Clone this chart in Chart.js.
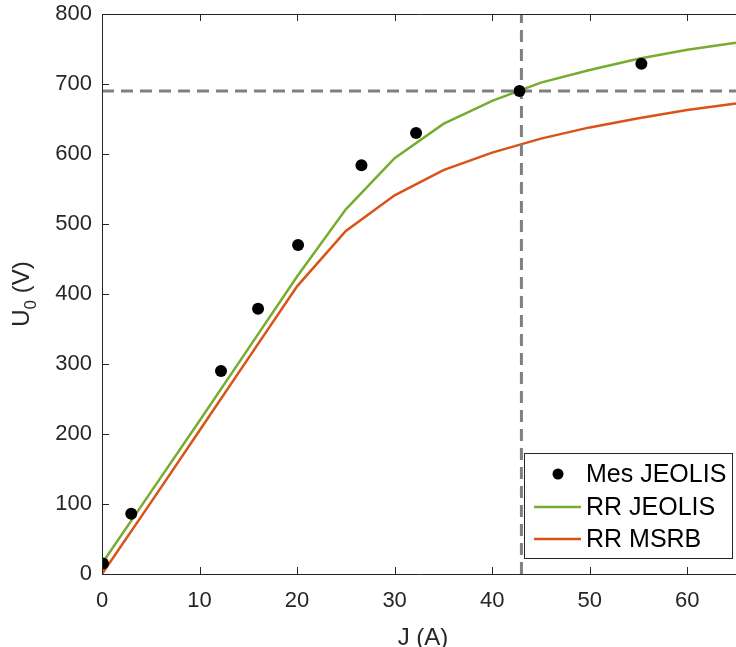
<!DOCTYPE html>
<html>
<head>
<meta charset="utf-8">
<script src="https://cdn.jsdelivr.net/npm/chart.js@4"></script>
<style>
html,body{margin:0;padding:0;background:#fff;}
#wrap{width:736px;height:647px;position:relative;}
</style>
</head>
<body>
<div id="wrap"><canvas id="c"></canvas></div>
<script>
// ---- data ----
const measJ = [0.1, 3.0, 12.2, 16.0, 20.1, 26.6, 32.2, 42.8, 55.3];
const measU = [15, 86, 290, 379, 470, 584, 630, 690, 729];

const modelJ = [0, 5, 10, 15, 20, 25, 30, 35, 40, 45, 50, 55, 60, 65];
const rrJeolis = [15, 117, 219, 322, 425, 521, 594, 643, 676, 702, 720, 736, 749, 759];
const rrMsrb   = [0, 102, 205, 308, 411, 490, 541, 577, 602, 622, 638, 651, 663, 672];

const refU = 690;   // horizontal dashed reference
const refJ = 43;    // vertical dashed reference

const xTicks = [0, 10, 20, 30, 40, 50, 60];
const yTicks = [0, 100, 200, 300, 400, 500, 600, 700, 800];
const seriesLabels = ['Mes JEOLIS', 'RR JEOLIS', 'RR MSRB'];

const FONT = '"Liberation Sans", Arial, Helvetica, sans-serif';
const AXIS = '#262626';
const GREEN = '#77AC30';
const ORANGE = '#D95319';
const GRAY = '#808080';

const pts = (xs, ys) => xs.map((x, i) => ({x: x, y: ys[i]}));

// inward ticks + box + titles
const axesPlugin = {
  id: 'axesPlugin',
  afterDraw(chart) {
    const ctx = chart.ctx, a = chart.chartArea;
    const xs = chart.scales.x, ys = chart.scales.y;
    const L = 7;
    ctx.save();
    ctx.strokeStyle = AXIS;
    ctx.lineWidth = 1;
    ctx.beginPath();
    ctx.moveTo(a.left + 0.5, a.top + 0.5);
    ctx.lineTo(a.right, a.top + 0.5);
    ctx.moveTo(a.left + 0.5, a.top);
    ctx.lineTo(a.left + 0.5, a.bottom + 0.5);
    ctx.lineTo(a.right, a.bottom + 0.5);
    xTicks.forEach(v => {
      const px = Math.round(xs.getPixelForValue(v)) + 0.5;
      ctx.moveTo(px, a.bottom); ctx.lineTo(px, a.bottom - L);
      ctx.moveTo(px, a.top); ctx.lineTo(px, a.top + L);
    });
    yTicks.forEach(v => {
      const py = Math.round(ys.getPixelForValue(v)) + 0.5;
      ctx.moveTo(a.left, py); ctx.lineTo(a.left + L, py);
    });
    ctx.stroke();

    // x title
    ctx.fillStyle = AXIS;
    ctx.font = '24px ' + FONT;
    ctx.textAlign = 'center';
    ctx.textBaseline = 'alphabetic';
    ctx.fillText('J (A)', (a.left + a.right) / 2 + 4, 645);

    // y title with subscript
    ctx.translate(29, (a.top + a.bottom) / 2);
    ctx.rotate(-Math.PI / 2);
    ctx.font = '24px ' + FONT;
    const wU = ctx.measureText('U').width;
    ctx.font = '17px ' + FONT;
    const w0 = ctx.measureText('0').width;
    ctx.font = '24px ' + FONT;
    const wR = ctx.measureText(' (V)').width;
    const total = wU + w0 + wR;
    let x0 = -total / 2;
    ctx.textAlign = 'left';
    ctx.fillText('U', x0, 0);
    ctx.font = '17px ' + FONT;
    ctx.fillText('0', x0 + wU, 7);
    ctx.font = '24px ' + FONT;
    ctx.fillText(' (V)', x0 + wU + w0, 0);
    ctx.restore();
  }
};

// legend drawn inside the plot, lower right
const legendPlugin = {
  id: 'boxLegend',
  afterDraw(chart) {
    const ctx = chart.ctx;
    const bx = 524, by = 453, bw = 208, bh = 105;
    ctx.save();
    ctx.fillStyle = '#fff';
    ctx.fillRect(bx, by, bw, bh);
    ctx.strokeStyle = AXIS;
    ctx.lineWidth = 1;
    ctx.strokeRect(bx + 0.5, by + 0.5, bw, bh);
    const rows = [474, 507, 539];
    const ds = chart.data.datasets;
    ctx.font = '25px ' + FONT;
    ctx.textBaseline = 'middle';
    ctx.textAlign = 'left';
    for (let i = 0; i < 3; i++) {
      const y = rows[i];
      const d = ds[i];
      if (i === 0) {
        ctx.fillStyle = '#000';
        ctx.beginPath(); ctx.arc(558, y, 5.5, 0, Math.PI * 2); ctx.fill();
      } else {
        ctx.strokeStyle = d.borderColor;
        ctx.lineWidth = 2.5;
        ctx.beginPath(); ctx.moveTo(534, y); ctx.lineTo(581, y); ctx.stroke();
      }
      ctx.fillStyle = '#000';
      ctx.fillText(d.label, 586, y + 1);
    }
    ctx.restore();
  }
};

new Chart(document.getElementById('c'), {
  type: 'scatter',
  data: {
    datasets: [
      {label: seriesLabels[0], data: pts(measJ, measU), showLine: false,
       pointRadius: 6, pointBackgroundColor: '#000', pointBorderWidth: 0, order: 0},
      {label: seriesLabels[1], data: pts(modelJ, rrJeolis), showLine: true,
       borderColor: GREEN, borderWidth: 2.5, pointRadius: 0, fill: false, order: 2},
      {label: seriesLabels[2], data: pts(modelJ, rrMsrb), showLine: true,
       borderColor: ORANGE, borderWidth: 2.5, pointRadius: 0, fill: false, order: 3},
      {label: 'hline', data: [{x: 0, y: refU}, {x: 65, y: refU}], showLine: true,
       borderColor: GRAY, borderWidth: 3, borderDash: [12, 7], pointRadius: 0, order: 1},
      {label: 'vline', data: [{x: refJ, y: 0}, {x: refJ, y: 800}], showLine: true,
       borderColor: GRAY, borderWidth: 3, borderDash: [12, 7], pointRadius: 0, order: 1}
    ]
  },
  options: {
    responsive: true,
    maintainAspectRatio: false,
    animation: false,
    layout: {padding: 0, autoPadding: false},
    plugins: {legend: {display: false}, tooltip: {enabled: false}},
    scales: {
      x: {
        type: 'linear', min: 0, max: 65,
        grid: {display: false, tickLength: 0}, border: {display: false},
        ticks: {stepSize: 10, includeBounds: false, color: AXIS,
                font: {family: FONT, size: 22}, padding: 14, maxRotation: 0},
        afterFit(s) { s.height = 73; s.paddingLeft = 0; s.paddingRight = 0; }
      },
      y: {
        type: 'linear', min: 0, max: 800,
        grid: {display: false, tickLength: 0}, border: {display: false},
        ticks: {stepSize: 100, color: AXIS, font: {family: FONT, size: 22}, padding: 10},
        afterFit(s) { s.width = 102; s.paddingTop = 14; s.paddingBottom = 0; }
      }
    }
  },
  plugins: [axesPlugin, legendPlugin]
});
</script>
</body>
</html>
